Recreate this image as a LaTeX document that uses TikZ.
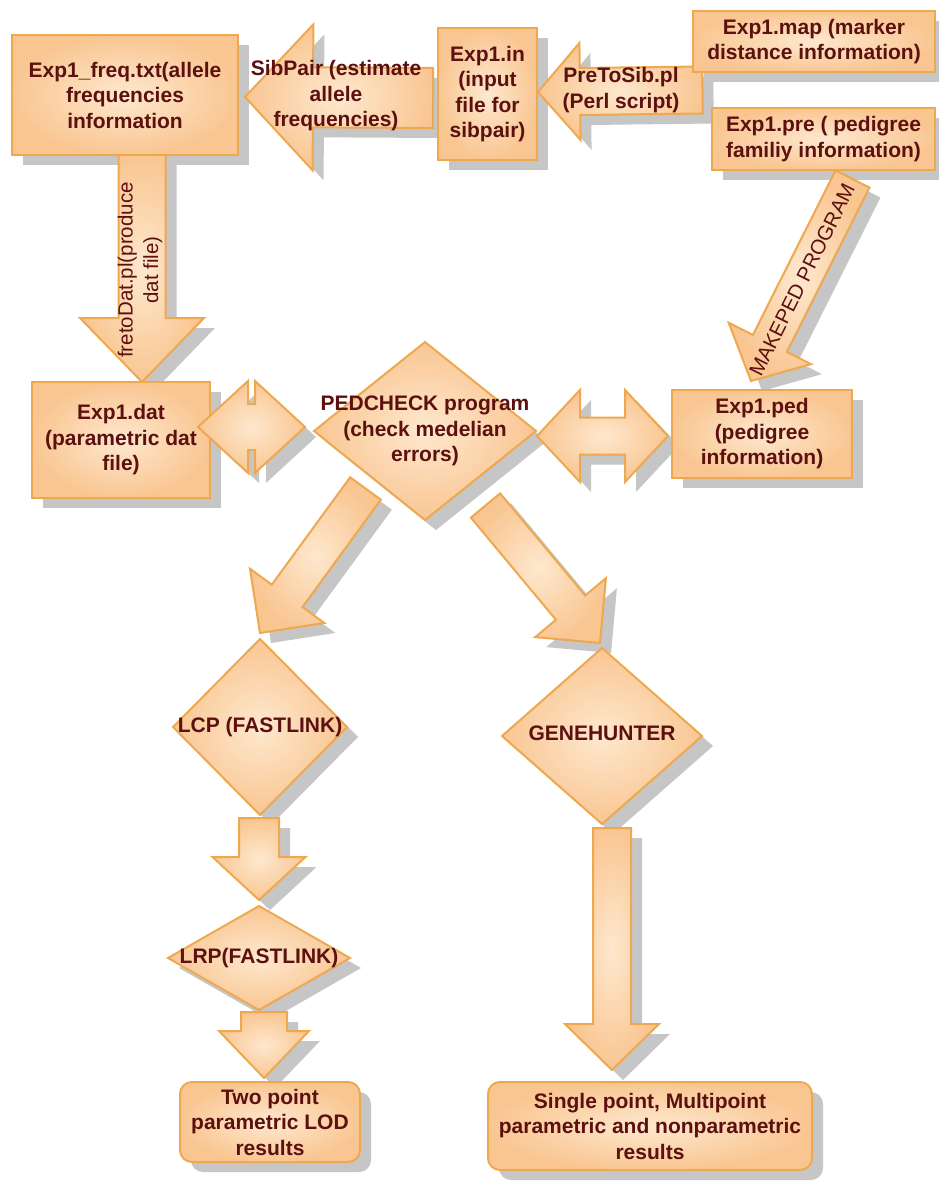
\documentclass[tikz,border=0pt]{standalone}
\usepackage{fontspec}
\setmainfont{Liberation Sans}
\usetikzlibrary{calc,shapes.geometric}
\definecolor{bord}{RGB}{238,168,80}
\definecolor{ftop}{RGB}{254,232,206}
\definecolor{fbot}{RGB}{249,198,146}
\definecolor{txtc}{RGB}{92,16,16}
\definecolor{shd}{RGB}{198,198,198}
\pgfdeclarelayer{shadowl}
\pgfdeclarelayer{arrowl}
\pgfsetlayers{shadowl,arrowl,main}
\tikzset{
  fillsty/.style={draw=bord, line width=2pt, inner color=ftop, outer color=fbot},
  box/.style={fillsty, rectangle, inner sep=0pt, outer sep=0pt},
  rbox/.style={box, rounded corners=12pt},
  dia/.style={fillsty, diamond, inner sep=0pt, outer sep=0pt},
  txt/.style={text=txtc, font=\bfseries\fontsize{21}{25.5}\selectfont, align=center, inner sep=0pt},
  rtxt/.style={text=txtc, font=\fontsize{20.5}{25.5}\selectfont, align=center, inner sep=0pt},
}
% single block arrow: tail, tip, shaft half width, head half width, head length
\newcommand\sarrow[5]{%
  \coordinate (aT) at #1;
  \coordinate (aP) at #2;
  \coordinate (aH) at ($(aP)!#5pt!(aT)$);
  \coordinate (a1) at ($(aT)!#3pt!90:(aP)$);
  \coordinate (a2) at ($(aH)!#3pt!90:(aP)$);
  \coordinate (a3) at ($(aH)!#4pt!90:(aP)$);
  \coordinate (a4) at ($(aH)!#4pt!-90:(aP)$);
  \coordinate (a5) at ($(aH)!#3pt!-90:(aP)$);
  \coordinate (a6) at ($(aT)!#3pt!-90:(aP)$);
  \begin{pgfonlayer}{shadowl}
    \fill[shd, transform canvas={shift={(11pt,-10pt)}}] (a1) -- (a2) -- (a3) -- (aP) -- (a4) -- (a5) -- (a6) -- cycle;
  \end{pgfonlayer}
  \begin{pgfonlayer}{arrowl}
    \path[fillsty] (a1) -- (a2) -- (a3) -- (aP) -- (a4) -- (a5) -- (a6) -- cycle;
  \end{pgfonlayer}
}
% double block arrow: tip A, tip B, shaft half width, head half width, head length
\newcommand\darrow[5]{%
  \coordinate (dA) at #1;
  \coordinate (dB) at #2;
  \coordinate (dHA) at ($(dA)!#5pt!(dB)$);
  \coordinate (dHB) at ($(dB)!#5pt!(dA)$);
  \coordinate (d1) at ($(dHA)!#4pt!90:(dB)$);
  \coordinate (d2) at ($(dHA)!#3pt!90:(dB)$);
  \coordinate (d3) at ($(dHB)!#3pt!90:(dB)$);
  \coordinate (d4) at ($(dHB)!#4pt!90:(dB)$);
  \coordinate (d5) at ($(dHB)!#4pt!-90:(dB)$);
  \coordinate (d6) at ($(dHB)!#3pt!-90:(dB)$);
  \coordinate (d7) at ($(dHA)!#3pt!-90:(dB)$);
  \coordinate (d8) at ($(dHA)!#4pt!-90:(dB)$);
  \begin{pgfonlayer}{shadowl}
    \fill[shd, transform canvas={shift={(11pt,-10pt)}}] (dA) -- (d1) -- (d2) -- (d3) -- (d4) -- (dB) -- (d5) -- (d6) -- (d7) -- (d8) -- cycle;
  \end{pgfonlayer}
  \path[fillsty] (dA) -- (d1) -- (d2) -- (d3) -- (d4) -- (dB) -- (d5) -- (d6) -- (d7) -- (d8) -- cycle;
}
\newcommand\bshadow[2][0pt]{%
  \begin{pgfonlayer}{shadowl}
    \fill[shd, rounded corners=#1] ([shift={(11,10)}]#2.north west) rectangle ([shift={(11,10)}]#2.south east);
  \end{pgfonlayer}}
\newcommand\dshadow[1]{%
  \begin{pgfonlayer}{shadowl}
    \fill[shd] ([shift={(11,10)}]#1.north) -- ([shift={(11,10)}]#1.east) -- ([shift={(11,10)}]#1.south) -- ([shift={(11,10)}]#1.west) -- cycle;
  \end{pgfonlayer}}

\begin{document}
\begin{tikzpicture}[x=1pt, y=-1pt]
\begin{pgfonlayer}{shadowl}
  \fill[white] (0,0) rectangle (938,1182);
\end{pgfonlayer}
\useasboundingbox (0,0) rectangle (938,1182);

% ---- boxes ----
\node[box, minimum width=226pt, minimum height=120pt, txt] (freq) at (125,95) {Exp1\_freq.txt(allele\\frequencies\\information};
\node[box, minimum width=99pt, minimum height=132pt, txt] (in) at (487.5,94) {Exp1.in\\(input\\file for\\sibpair)};
\node[box, minimum width=242pt, minimum height=61pt, txt] (map) at (814,41.5) {Exp1.map (marker\\distance information)};
\node[box, minimum width=223pt, minimum height=62pt, txt] (pre) at (823.5,139) {Exp1.pre ( pedigree\\familiy information)};
\node[box, minimum width=178pt, minimum height=116pt, txt] (dat) at (121,440) {Exp1.dat\\(parametric dat\\file)};
\node[box, minimum width=180pt, minimum height=88pt, txt] (ped) at (762,434) {Exp1.ped\\(pedigree\\information)};
\node[dia, minimum width=222pt, minimum height=178pt] (pc) at (425,431) {};
\node[dia, minimum width=174pt, minimum height=176pt] (lcp) at (260,727) {};
\node[dia, minimum width=200pt, minimum height=176pt] (gh) at (602,736) {};
\node[dia, minimum width=182pt, minimum height=104pt] (lrp) at (259,958) {};
\node[rbox, minimum width=180pt, minimum height=80pt, txt] (two) at (270,1122) {Two point\\parametric LOD\\results};
\node[rbox, minimum width=324pt, minimum height=88pt, txt] (single) at (650,1126) {Single point, Multipoint\\parametric and nonparametric\\results};

\node[txt] (pct) at (pc) {PEDCHECK program\\(check medelian\\errors)};
\node[txt] (lcpt) at (lcp) {LCP (FASTLINK)};
\node[txt] (ght) at ($(gh)+(0,-3)$) {GENEHUNTER};
\node[txt] (lrpt) at (lrp) {LRP(FASTLINK)};

\bshadow{freq}\bshadow{in}\bshadow{map}\bshadow{pre}\bshadow{dat}\bshadow{ped}
\bshadow[12pt]{two}\bshadow[12pt]{single}
\dshadow{pc}\dshadow{lcp}\dshadow{gh}\dshadow{lrp}

% ---- block arrows ----
\sarrow{($(in.west)+(-5,4)$)}{($(freq.east)+(7,2)$)}{30}{73}{68}
\sarrow{($(map.south west)!0.5!(pre.north west)$)}{($(in.east)+(1,-2)$)}{23.5}{48.5}{42}
\sarrow{($(freq.south)+(17,0)$)}{($(dat.north)+(21,0)$)}{23.5}{62}{64}
\sarrow{($(pre.south)+(29,9)$)}{($(ped.north)+(-11,-9)$)}{19}{46}{42}
\sarrow{($(pc.south west)+(-4,13)$)}{($(lcp.north)+(0,-6)$)}{19}{46}{46}
\sarrow{($(pc.south east)+(5,30)$)}{($(gh.north)+(-2,-5)$)}{19}{46}{46}
\sarrow{($(lcp.south)+(-1,3)$)}{($(lrp.north)+(0,-6)$)}{20}{46.5}{43}
\sarrow{($(lrp.south)+(5,2)$)}{($(two.north)+(-6,-4)$)}{23}{45}{47}
\sarrow{($(gh.south)+(10,4)$)}{($(single.north)+(-38,-12)$)}{19}{47}{46}

\darrow{($(dat.east)+(-12,-13)$)}{($(pc.west)+(-9,-4)$)}{23}{46}{50}
\darrow{($(pc.east)+(1,5)$)}{($(ped.west)+(-4,2)$)}{18.5}{46}{43}

% ---- arrow labels ----
\node[txt] (sibt) at (336,96) {SibPair (estimate\\allele\\frequencies)};
\node[txt] (pret) at (621,90) {PreToSib.pl\\(Perl script)};
\node[rtxt, rotate=90] (fret) at (140,270) {fretoDat.pl(produce\\dat file)};
\node[rtxt, rotate=63.5] (makt) at (802,280) {MAKEPED PROGRAM};
\end{tikzpicture}
\end{document}
